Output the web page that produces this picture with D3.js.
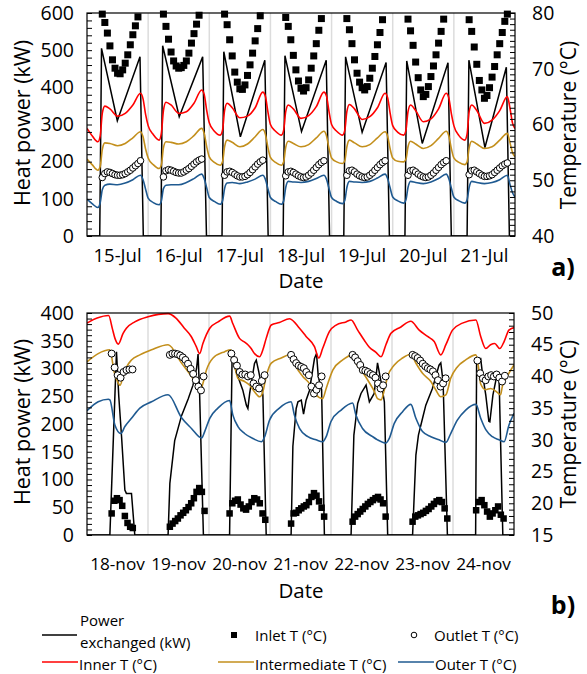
<!DOCTYPE html>
<html><head><meta charset="utf-8">
<script src="https://cdn.jsdelivr.net/npm/d3@7"></script>
<style>body{margin:0;background:#fff}svg text{font-family:"Open Sans",sans-serif;fill:#000}</style>
</head><body><svg id="c" width="587" height="674"></svg>
<script>
// ---------------- DATA: July (panel a) ----------------
const julyDays = ["15-Jul","16-Jul","17-Jul","18-Jul","19-Jul","20-Jul","21-Jul"];
const julyPowerTicks = [0,100,200,300,400,500,600];
const julyTempTicks = [40,50,60,70,80];
// power per day (hours of the day, kW)
const julyPowerOn      = [5.0,5.0,5.0,5.0,4.8,4.8,5.2];
const julyPowerAMHour  = [5.7,5.7,5.7,5.7,5.5,5.5,5.9];
const julyPowerAM      = [505,512,496,485,482,471,473];
const julyPowerMinHour = [11.9,12.2,12.2,12.2,12.0,11.6,12.2];
const julyPowerMin     = [310,321,267,281,279,249,238];
const julyPowerPMHour  = [20.8,21.4,21.8,21.9,21.4,21.7,20.6];
const julyPowerPM      = [482,482,473,473,467,466,454];
const julyPowerOff     = [22.1,22.9,23.1,23.2,22.7,23.0,21.8];
// wall temperatures at these hours of each day
const julyHours = [0,2,4.3,5.2,6,7,9,12,15,18,21,22,23];
const julyInner = [
 [59.3,58.0,56.9,58.0,62.0,63.3,62.8,61.5,62.0,63.5,65.6,64.6,61.8],
 [59.8,58.2,57.2,58.5,62.5,64.0,63.5,62.0,62.3,63.8,66.2,65.4,62.5],
 [60.3,58.8,58.1,59.0,62.5,63.8,63.0,61.2,61.5,63.0,65.8,65.1,62.3],
 [60.0,58.8,58.1,59.0,62.3,63.5,62.8,61.1,61.6,63.2,65.8,65.1,62.3],
 [60.0,58.8,58.1,59.0,62.3,63.6,62.8,60.9,61.4,63.0,65.6,64.8,62.0],
 [59.8,58.6,58.1,59.0,62.3,63.5,62.5,60.5,61.0,62.8,65.6,64.8,62.0],
 [59.8,58.0,57.2,58.3,62.3,63.5,62.5,60.2,60.8,62.5,65.0,63.0,60.3]];
const julyInnerEnd = 59.3;
const julyInter = [
 [53.8,52.8,51.8,52.5,55.5,56.7,56.6,56.2,56.6,57.6,58.7,57.8,55.6],
 [54.0,52.8,52.1,52.8,55.8,56.9,56.8,56.5,56.9,58.0,59.3,58.4,56.0],
 [54.2,53.2,52.7,53.3,56.0,57.2,56.8,56.0,56.5,57.8,59.1,58.3,55.9],
 [54.1,53.2,52.7,53.3,55.9,57.0,56.6,56.0,56.4,57.6,58.8,58.0,55.7],
 [54.0,53.3,53.0,53.5,56.0,57.2,56.7,56.0,56.4,57.6,58.7,57.9,55.6],
 [54.0,53.4,53.3,53.8,56.0,57.0,56.5,55.7,56.2,57.5,58.8,58.0,55.7],
 [54.0,53.2,52.8,53.3,55.8,57.0,56.5,55.7,56.0,57.2,58.4,56.8,55.0]];
const julyInterEnd = 54.2;
const julyOuter = [
 [46.6,45.8,45.1,46.0,48.3,49.1,49.3,49.2,49.5,50.1,50.9,50.1,48.4],
 [46.8,46.0,45.6,46.3,48.5,49.1,49.2,49.2,49.6,50.3,51.1,50.3,48.6],
 [46.9,46.2,45.7,46.3,48.5,49.5,49.6,49.4,49.7,50.2,50.9,50.2,48.5],
 [46.9,46.2,45.7,46.3,48.7,49.8,49.7,49.6,49.8,50.3,50.9,50.2,48.5],
 [46.9,46.2,45.8,46.4,48.7,49.8,49.7,49.6,49.8,50.4,51.1,50.3,48.6],
 [47.0,46.3,45.9,46.5,48.7,49.8,49.6,49.4,49.7,50.3,51.1,50.3,48.6],
 [47.0,46.3,45.9,46.5,48.7,49.8,49.6,49.4,49.6,50.1,50.9,49.3,47.8]];
const julyOuterEnd = 47.0;
// hourly inlet / outlet temperature (first hour, one value per hour)
const julyInletStart = 6;
const julyInlet = [
 [79.8,78.3,76.4,74.1,71.6,70.1,69.2,69.1,69.8,71.0,72.5,74.3,76.1,77.7,79.3],
 [79.8,77.6,75.3,73.0,71.4,70.5,70.1,70.2,70.6,71.4,72.8,74.6,76.3,78.0,79.6],
 [79.8,77.9,75.2,72.3,69.4,67.6,66.4,66.3,67.1,68.8,70.7,72.8,75.0,77.2,79.5],
 [79.2,77.6,75.2,72.4,69.8,67.8,66.5,66.0,66.6,68.0,70.1,72.3,74.5,76.9,79.0],
 [79.0,77.0,74.5,71.6,69.2,67.6,66.6,66.2,66.8,68.3,70.1,72.2,74.3,76.5,78.8],
 [78.9,76.8,74.2,71.2,68.4,66.2,65.0,65.4,66.8,68.6,70.5,72.5,74.6,76.7,78.9],
 [78.8,76.7,73.9,70.8,67.9,66.2,64.7,65.2,66.6,68.5,70.4,72.5,74.5,76.5,78.5,79.8]];
const julyOutletStart = 6;
const julyOutlet = [
 [50.5,51.2,51.5,51.4,51.2,51.0,50.9,50.9,51.0,51.2,51.5,51.8,52.2,52.6,53.0,53.5],
 [50.6,51.7,51.9,51.8,51.6,51.4,51.3,51.3,51.5,51.8,52.1,52.5,52.9,53.3,53.6,53.8],
 [50.9,51.5,51.6,51.4,51.1,50.8,50.6,50.6,50.7,51.0,51.4,51.9,52.4,52.9,53.3,53.6],
 [50.8,51.5,51.6,51.4,51.1,50.8,50.6,50.5,50.6,50.9,51.3,51.8,52.3,52.8,53.2,53.5],
 [50.9,51.7,51.8,51.5,51.1,50.8,50.6,50.5,50.6,50.9,51.3,51.8,52.3,52.8,53.2,53.5],
 [50.9,51.7,51.8,51.5,51.1,50.8,50.6,50.5,50.6,50.9,51.3,51.8,52.3,52.8,53.2,53.5],
 [51.0,51.7,51.8,51.5,51.2,50.9,50.7,50.7,50.8,51.0,51.4,51.8,52.2,52.6,52.9,53.1]];

// ---------------- DATA: November (panel b) ----------------
const novDays = ["18-nov","19-nov","20-nov","21-nov","22-nov","23-nov","24-nov"];
const novPowerTicks = [0,50,100,150,200,250,300,350,400];
const novTempTicks = [15,20,25,30,35,40,45,50];
// [hour since 18-nov 00:00, value]
const novPower = [[0,0],[9.0,0],[11.6,330],[12.5,250],[13.6,177],[14.9,81],[15.5,75],[17.5,75],[18.8,0],
 [31.9,0],[32.6,93],[34.5,170],[37.2,215],[39.8,245],[41.7,270],[43.1,300],[43.7,326],[44.3,255],[45.8,0],
 [56.1,0],[57.1,325],[58.1,303],[59.4,285],[61.3,261],[62.7,234],[63.3,228],[64.0,255],[65.9,309],[66.6,315],[67.6,294],[68.6,270],[69.2,252],[70.5,0],
 [80.3,0],[81.0,160],[82.3,228],[83.0,240],[84.3,243],[85.2,218],[86.2,243],[87.5,260],[89.5,318],[90.3,327],[91.0,285],[92.3,262],[93.4,0],
 [103.9,0],[105.0,180],[106.5,237],[107.8,255],[109.8,270],[111.1,240],[113.0,255],[114.3,310],[115.7,276],[117.0,240],[118.3,0],
 [128.1,0],[129.4,144],[130.4,180],[132.0,210],[133.3,234],[135.9,264],[138.5,306],[139.2,310],[140.1,276],[141.8,0],
 [152.9,0],[153.3,318],[154.9,318],[155.5,294],[156.9,252],[158.1,205],[158.5,204],[159.7,252],[161.4,291],[162.1,288],[163.6,0],[168,0]];
const novInner = [[0,48.4],[4,49.2],[8.5,49.6],[10,47.5],[11,46.0],[12.3,45.1],[14.2,46.8],[15.5,47.6],[18.8,48.6],[24,49.4],[31.9,49.9],[35,49.2],[38.3,47.6],[41,46.3],[43,44.7],[44.3,43.6],[45.6,45.2],[48.3,47.6],[51.6,48.6],[56.1,49.5],[57.4,48.3],[60.0,46.0],[62.0,45.4],[63.3,45.0],[64.6,44.4],[65.9,43.6],[67.9,43.1],[69.2,44.2],[70.5,46.0],[72.5,48.1],[75.7,48.5],[79.7,49.1],[83.6,47.6],[86.2,46.3],[89.5,44.7],[91.2,42.9],[92.7,44.4],[95.4,47.1],[98.0,48.1],[101.9,48.6],[103.9,48.9],[106.5,47.3],[109.1,45.7],[111.1,44.6],[113.7,43.8],[115.7,43.1],[117.6,45.0],[119.6,46.8],[123.5,47.8],[127.4,48.7],[130.7,47.3],[134.0,46.3],[136.6,45.5],[139.2,43.4],[141.2,45.0],[143.8,47.3],[147.7,48.4],[153.0,48.9],[154.9,46.3],[156.9,44.4],[158.8,45.0],[160.4,45.2],[162.4,44.4],[164.1,45.5],[166.0,47.3],[168,47.7]];
const novInter = [[0,42.3],[4.4,43.6],[9.0,44.2],[10.7,40.7],[12.0,39.2],[13.0,38.6],[14.2,40.0],[15.6,41.5],[17.5,42.6],[20.8,43.4],[25.4,44.2],[31.9,45.0],[37.2,42.1],[41.1,40.0],[43.7,38.4],[44.3,37.5],[45.6,38.9],[47.0,41.0],[49.6,42.9],[54.2,43.9],[56.5,44.2],[58.0,41.8],[59.4,39.7],[62.0,39.2],[64.0,38.6],[65.9,37.6],[67.9,36.8],[69.2,37.6],[70.5,40.0],[72.5,42.1],[76.4,42.9],[80.3,43.5],[82.3,41.5],[84.9,40.0],[87.5,38.9],[90.1,37.1],[92.7,36.5],[94.1,38.1],[96.7,41.0],[100.6,42.6],[104.5,43.4],[105.8,42.1],[108.4,40.7],[111.1,39.0],[113.1,37.6],[114.3,36.5],[115.7,36.3],[117.0,37.9],[118.3,40.0],[120.9,41.8],[124.1,42.9],[127.4,43.5],[129.4,42.1],[132.0,40.5],[135.3,39.2],[137.2,37.9],[139.2,36.8],[141.2,37.1],[143.1,39.7],[145.7,41.5],[149.0,42.6],[153.0,43.4],[154.2,41.0],[154.9,38.8],[156.9,37.9],[158.8,38.1],[161.4,37.5],[162.7,37.1],[163.4,38.4],[165.3,40.0],[168,41.8]];
const novOuter = [[0,34.6],[4.4,36.0],[8.4,36.4],[9.0,36.3],[11.0,32.3],[13.3,31.0],[14.9,32.1],[17.5,33.4],[20.8,35.0],[25.4,36.0],[31.9,37.1],[37.2,33.5],[41.1,31.8],[45.1,30.3],[46.3,31.3],[48.3,33.4],[51.5,35.0],[56.1,36.2],[57.4,33.9],[59.4,32.1],[62.0,31.0],[65.3,30.2],[68.6,29.7],[69.9,30.5],[71.8,33.1],[75.7,35.0],[80.3,36.0],[81.6,33.9],[83.6,31.8],[86.9,30.5],[90.1,30.0],[92.7,29.7],[94.1,30.5],[96.0,32.9],[100.0,34.7],[104.5,35.8],[105.8,33.9],[108.4,31.8],[112.4,30.5],[114.3,30.0],[117.6,29.5],[118.9,30.2],[120.9,32.6],[124.1,34.4],[127.4,35.6],[129.4,33.4],[132.0,31.3],[135.3,30.5],[138.5,30.0],[141.2,29.6],[143.1,31.0],[145.7,33.1],[149.0,34.7],[153.0,35.6],[154.9,33.4],[156.9,31.6],[159.5,30.5],[162.1,30.0],[164.1,29.7],[166.0,32.3],[168,34.2]];
// hourly-ish samples: first sample hour, spacing, values
const novInletStart = [9.7,32.6,56.1,80.3,104.5,128.1,153.1];
const novInletStep  = [1.04,1.05,1.08,1.0,1.0,1.05,1.08];
const novInlet = [
 [18.4,20.4,20.8,20.5,19.6,18.0,16.9,16.3,16.1],
 [16.3,16.8,17.2,17.6,18.1,18.5,18.9,19.4,20.0,20.8,21.8,22.4,21.8,18.8],
 [18.4,20.0,20.4,20.6,19.8,19.2,19.0,19.5,20.2,20.8,20.6,20.0,18.4,17.4],
 [16.8,18.4,18.5,18.9,19.2,19.5,19.7,20.2,21.0,21.6,21.2,20.3,19.3,17.9],
 [17.1,17.9,18.3,18.7,19.1,19.5,19.9,20.2,20.5,20.8,21.0,20.6,20.0,17.9],
 [17.1,17.9,18.1,18.3,18.5,18.8,19.1,19.5,19.9,20.3,20.5,20.2,19.2,17.6],
 [18.9,20.2,20.5,19.7,18.7,17.9,18.4,18.9,19.5,18.2,17.6]];
const novOutletStart = [9.7,32.6,56.8,80.3,104.5,128.1,153.6];
const novOutletStep  = [1.17,1.02,1.09,1.0,1.0,1.0,1.08];
const novOutlet = [
 [43.6,41.4,40.2,39.8,40.7,41.0,41.1,41.1],
 [43.4,43.6,43.6,43.5,43.3,43.0,42.6,42.0,41.2,40.4,39.4,38.4,37.8,40.0],
 [43.6,42.6,41.7,40.7,40.3,40.3,40.0,40.2,38.9,38.4,38.1,39.3,40.2],
 [43.4,42.7,42.1,41.7,41.5,41.3,40.7,40.2,38.4,37.3,37.9,38.6,40.0],
 [43.4,43.0,42.4,41.8,41.0,40.9,40.7,40.4,40.2,39.8,38.9,38.1,38.6,40.0],
 [43.4,43.2,42.9,42.5,42.0,41.6,41.3,41.1,40.8,40.2,39.4,38.4,38.9,39.7],
 [42.5,40.5,39.7,39.4,40.0,40.2,40.0,40.3,39.8,39.2,40.1]];

const legendItems = ["Power exchanged (kW)","Inlet T (°C)","Outlet T (°C)","Inner T (°C)","Intermediate T (°C)","Outer T (°C)"];
const COL = {inner:"#ff0000", inter:"#c38f1c", outer:"#1f5a91", power:"#000"};

// ---------------- build series ----------------
function julyPowerSeries(){
  const s=[[0,0]];
  julyDays.forEach((_,d)=>{const o=24*d;
    s.push([o+julyPowerOn[d],0],[o+julyPowerAMHour[d],julyPowerAM[d]],[o+julyPowerMinHour[d],julyPowerMin[d]],
           [o+julyPowerPMHour[d],julyPowerPM[d]],[o+julyPowerOff[d],0]);});
  s.push([168,0]); return s;
}
function julyTempSeries(vals,end){
  const s=[]; vals.forEach((row,d)=>row.forEach((v,i)=>s.push([24*d+julyHours[i],v]))); s.push([168,end]); return s;
}
function julyPoints(vals,start){
  const s=[]; vals.forEach((row,d)=>row.forEach((v,i)=>s.push([24*d+start+i,v]))); return s;
}
function novPoints(vals,starts,steps){
  const s=[]; vals.forEach((row,d)=>row.forEach((v,i)=>s.push([starts[d]+steps[d]*i,v]))); return s;
}

const svg=d3.select("#c");
const defs=svg.append("defs");

function panel(p){
  const x=d3.scaleLinear().domain([0,168]).range([p.left,p.right]);
  const yP=d3.scaleLinear().domain(p.pDomain).range([p.bottom,p.top]);
  const yT=d3.scaleLinear().domain(p.tDomain).range([p.bottom,p.top]);
  const g=svg.append("g");
  defs.append("clipPath").attr("id","clip"+p.name).append("rect")
    .attr("x",p.left).attr("y",p.top-4).attr("width",p.right-p.left).attr("height",p.bottom-p.top+4);
  g.append("g").selectAll("line").data(d3.range(1,7)).join("line")
    .attr("x1",d=>x(24*d)).attr("x2",d=>x(24*d)).attr("y1",p.top).attr("y2",p.bottom)
    .attr("stroke","#dcdcdc").attr("stroke-width",1.5);
  const body=g.append("g").attr("clip-path",`url(#clip${p.name})`);
  const lineP=d3.line().x(d=>x(d[0])).y(d=>yP(d[1]));
  const lineT=d3.line().x(d=>x(d[0])).y(d=>yT(d[1])).curve(d3.curveMonotoneX);
  body.append("path").attr("d",lineP(p.power)).attr("fill","none").attr("stroke",COL.power).attr("stroke-width",1.5);
  body.append("path").attr("d",lineT(p.inner)).attr("fill","none").attr("stroke",COL.inner).attr("stroke-width",1.6);
  body.append("path").attr("d",lineT(p.inter)).attr("fill","none").attr("stroke",COL.inter).attr("stroke-width",1.6);
  body.append("path").attr("d",lineT(p.outer)).attr("fill","none").attr("stroke",COL.outer).attr("stroke-width",1.6);
  const s=p.sq;
  body.append("g").selectAll("rect").data(p.inlet.filter(d=>d[1]>=p.tDomain[0]&&d[1]<=p.tDomain[1])).join("rect")
    .attr("x",d=>x(d[0])-s/2).attr("y",d=>yT(d[1])-s/2).attr("width",s).attr("height",s).attr("fill","#000");
  body.append("g").selectAll("circle").data(p.outlet).join("circle")
    .attr("cx",d=>x(d[0])).attr("cy",d=>yT(d[1])).attr("r",p.r)
    .attr("fill","#fff").attr("stroke","#000").attr("stroke-width",1);
  g.append("rect").attr("x",p.left).attr("y",p.top).attr("width",p.right-p.left).attr("height",p.bottom-p.top)
    .attr("fill","none").attr("stroke","#000").attr("stroke-width",1.2);
  const la=g.append("g").attr("transform",`translate(${p.left},0)`)
    .call(d3.axisLeft(yP).tickValues(d3.range(p.pDomain[0],p.pDomain[1]+0.01,p.pMinor)).tickSizeInner(-5).tickSizeOuter(0).tickPadding(13)
      .tickFormat(d=>p.pTicks.includes(d)?d:""));
  const ra=g.append("g").attr("transform",`translate(${p.right},0)`)
    .call(d3.axisRight(yT).tickValues(d3.range(p.tDomain[0],p.tDomain[1]+0.01,1)).tickSizeInner(-5).tickSizeOuter(0).tickPadding(17)
      .tickFormat(d=>p.tTicks.includes(d)?d:""));
  [la,ra].forEach(a=>{a.select(".domain").remove();a.selectAll("line").attr("stroke","#000");
    a.selectAll("text").attr("font-size",19.5).attr("font-family",'"Open Sans",sans-serif');});
  g.append("g").selectAll("text").data(p.days).join("text")
    .attr("x",(d,i)=>x(24*i+12)).attr("y",p.dayY).attr("text-anchor","middle").attr("dominant-baseline","central")
    .attr("font-size",p.dayFont).text(d=>d);
  g.append("text").attr("x",301).attr("y",p.dateY).attr("text-anchor","middle").attr("dominant-baseline","central")
    .attr("font-size",20.5).text("Date");
  g.append("text").attr("transform",`translate(21,${p.yTitle}) rotate(-90)`).attr("text-anchor","middle")
    .attr("dominant-baseline","central").attr("font-size",21.5).text("Heat power (kW)");
  g.append("text").attr("transform",`translate(568,${p.yTitle+2}) rotate(-90)`).attr("text-anchor","middle")
    .attr("dominant-baseline","central").attr("font-size",21).text("Temperature (°C)");
  g.append("text").attr("x",563).attr("y",p.tagY).attr("text-anchor","middle").attr("dominant-baseline","central")
    .attr("font-size",25).attr("font-weight","bold").text(p.tag);
}

panel({name:"a",left:87,right:515,top:13,bottom:236,pDomain:[0,600],tDomain:[40,80],pMinor:20,
  pTicks:julyPowerTicks,tTicks:julyTempTicks,days:julyDays,dayFont:18.5,dayY:254,dateY:280,yTitle:123,tag:"a)",tagY:266,
  power:julyPowerSeries(),inner:julyTempSeries(julyInner,julyInnerEnd),inter:julyTempSeries(julyInter,julyInterEnd),
  outer:julyTempSeries(julyOuter,julyOuterEnd),inlet:julyPoints(julyInlet,julyInletStart),outlet:julyPoints(julyOutlet,julyOutletStart),sq:7,r:3.3});

panel({name:"b",left:87,right:514,top:313,bottom:535,pDomain:[0,400],tDomain:[15,50],pMinor:10,
  pTicks:novPowerTicks,tTicks:novTempTicks,days:novDays,dayFont:17.2,dayY:563,dateY:590,yTitle:422,tag:"b)",tagY:604,
  power:novPower,inner:novInner,inter:novInter,outer:novOuter,
  inlet:novPoints(novInlet,novInletStart,novInletStep),outlet:novPoints(novOutlet,novOutletStart,novOutletStep),sq:6.5,r:3.5});

// ---------------- legend ----------------
const lg=svg.append("g");
const LF=15;
function lgLine(x1,x2,y,c){lg.append("line").attr("x1",x1).attr("x2",x2).attr("y1",y).attr("y2",y).attr("stroke",c).attr("stroke-width",1.6);}
function lgText(x,y,t){lg.append("text").attr("x",x).attr("y",y).attr("dominant-baseline","central").attr("font-size",LF).text(t);}
lgLine(42,77,635,COL.power);
lgText(80,620,"Power"); lgText(80,642,"exchanged (kW)");
lg.append("rect").attr("x",231).attr("y",632).attr("width",6).attr("height",6).attr("fill","#000");
lgText(255,635,legendItems[1]);
lg.append("circle").attr("cx",414).attr("cy",635).attr("r",2.8).attr("fill","#fff").attr("stroke","#000");
lgText(434,635,legendItems[2]);
lgLine(42,78,662,COL.inner); lgText(79,664,legendItems[3]);
lgLine(218,254,662,COL.inter); lgText(255,664,legendItems[4]);
lgLine(398,434,662,COL.outer); lgText(435,664,legendItems[5]);
</script></body></html>
